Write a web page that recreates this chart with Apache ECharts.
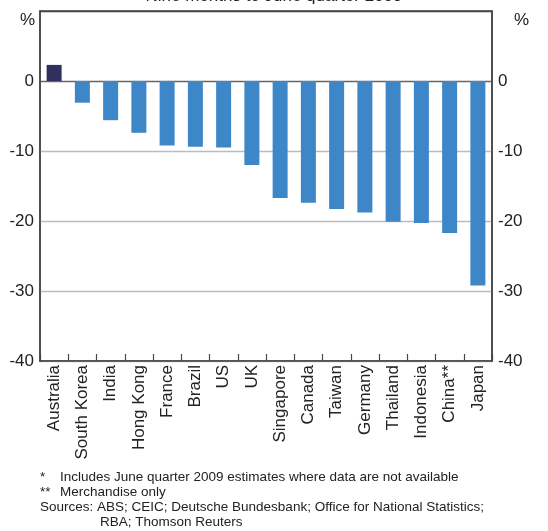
<!DOCTYPE html>
<html>
<head>
<meta charset="utf-8">
<script src="https://cdn.jsdelivr.net/npm/echarts@6/dist/echarts.min.js"></script>
<style>
  html, body { margin: 0; padding: 0; background: #fff; }
  #chart { width: 548px; height: 531px; }
</style>
</head>
<body>
<div id="chart"></div>
<script>
// Economy names along the x-axis
const countries = ['Australia', 'South Korea', 'India', 'Hong Kong', 'France', 'Brazil', 'US', 'UK',
  'Singapore', 'Canada', 'Taiwan', 'Germany', 'Thailand', 'Indonesia', 'China**', 'Japan'];
// Change over nine months, per cent
const growth = [2.3, -3.1, -5.6, -7.4, -9.2, -9.4, -9.5, -12.0,
  -16.7, -17.4, -18.3, -18.8, -20.1, -20.3, -21.7, -29.2];
// Value-axis ticks
const yTicks = [-40, -30, -20, -10, 0, 10];
// Notes below the chart: [marker, text]
const notes = [
  ['*', 'Includes June quarter 2009 estimates where data are not available'],
  ['**', 'Merchandise only']
];
const sources = ['Sources: ABS; CEIC; Deutsche Bundesbank; Office for National Statistics;',
  'RBA; Thomson Reuters'];

const FONT = '"Liberation Sans", Arial, sans-serif';
const BLUE = '#3d87c8';
const NAVY = '#2f2f60';
const TEXT = '#222';

const chart = echarts.init(document.getElementById('chart'));

const yAxisBase = {
  type: 'value',
  min: yTicks[0],
  max: yTicks[yTicks.length - 1],
  interval: 10,
  axisLine: { show: true, lineStyle: { color: '#444', width: 1.5 } },
  axisTick: { show: false },
  axisLabel: {
    color: TEXT, fontSize: 17, fontFamily: FONT, margin: 6,
    formatter: v => (v === 10 ? '' : String(v))
  }
};

const noteFont = '13.5px ' + FONT;
const noteGraphics = [];
notes.forEach((n, i) => {
  noteGraphics.push({ type: 'text', left: 40, top: 470 + i * 15, style: { text: n[0], fill: TEXT, font: noteFont } });
  noteGraphics.push({ type: 'text', left: 60, top: 470 + i * 15, style: { text: n[1], fill: TEXT, font: noteFont } });
});
noteGraphics.push({ type: 'text', left: 40, top: 500, style: { text: sources[0], fill: TEXT, font: noteFont } });
noteGraphics.push({ type: 'text', left: 100, top: 515, style: { text: sources[1], fill: TEXT, font: noteFont } });

chart.setOption({
  animation: false,
  backgroundColor: '#fff',
  grid: { left: 40, right: 56, top: 11, bottom: 170, show: true, borderColor: '#444', borderWidth: 1.5 },
  xAxis: {
    type: 'category',
    data: countries,
    axisLine: { show: true, onZero: false, lineStyle: { color: '#444', width: 1.5 } },
    axisTick: { show: true, inside: true, length: 7, lineStyle: { color: '#444', width: 1.2 } },
    axisLabel: {
      rotate: 90, color: TEXT, fontSize: 17, fontFamily: FONT, margin: 4,
      interval: 0
    }
  },
  yAxis: [
    Object.assign({}, yAxisBase, {
      position: 'left',
      splitLine: {
        show: true,
        lineStyle: { color: ['#bbb', '#bbb', '#bbb', '#bbb', '#666', '#444'], width: 1.3 }
      }
    }),
    Object.assign({}, yAxisBase, {
      position: 'right',
      splitLine: { show: false }
    })
  ],
  series: [{
    type: 'bar',
    data: growth.map((v, i) => ({ value: v, itemStyle: { color: i === 0 ? NAVY : BLUE } })),
    barWidth: 15,
    yAxisIndex: 0
  }],
  graphic: [
    {
      type: 'text', left: 'center', top: -12,
      style: { text: 'Nine months to June quarter 2009', fill: TEXT, font: '17px ' + FONT }
    },
    { type: 'text', left: 20, top: 12, style: { text: '%', fill: TEXT, font: '17px ' + FONT } },
    { type: 'text', left: 514, top: 12, style: { text: '%', fill: TEXT, font: '17px ' + FONT } }
  ].concat(noteGraphics)
});
</script>
</body>
</html>
